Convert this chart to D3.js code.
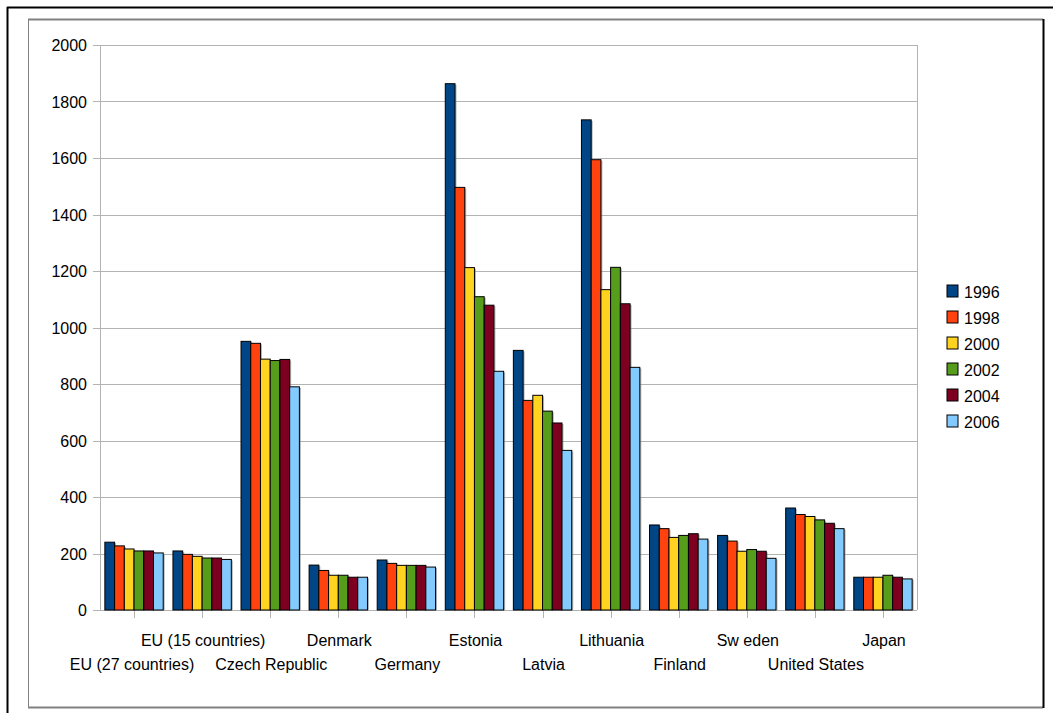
<!DOCTYPE html>
<html>
<head>
<meta charset="utf-8">
<script src="https://cdn.jsdelivr.net/npm/d3@7"></script>
<style>
  html, body { margin: 0; padding: 0; background: #fff; }
  svg { display: block; font-family: "Liberation Sans", Arial, sans-serif; }
</style>
</head>
<body>
<svg id="chart" width="1053" height="713"></svg>
<script>
const categories = ["EU (27 countries)", "EU (15 countries)", "Czech Republic", "Denmark", "Germany",
  "Estonia", "Latvia", "Lithuania", "Finland", "Sw eden", "United States", "Japan"];
const years = ["1996", "1998", "2000", "2002", "2004", "2006"];
const v1996 = [240, 209, 951, 159, 177, 1863, 919, 1735, 301, 264, 361, 116];
const v1998 = [227, 197, 944, 140, 165, 1496, 742, 1594, 288, 244, 338, 116];
const v2000 = [216, 190, 888, 123, 158, 1212, 760, 1134, 257, 208, 331, 116];
const v2002 = [209, 184, 883, 123, 158, 1109, 704, 1213, 264, 214, 319, 123];
const v2004 = [209, 184, 887, 116, 158, 1079, 662, 1084, 270, 208, 307, 116];
const v2006 = [202, 179, 790, 116, 152, 845, 565, 859, 251, 183, 288, 110];
const yTicks = [0, 200, 400, 600, 800, 1000, 1200, 1400, 1600, 1800, 2000];
const colors = ["#004586", "#ff420e", "#ffd320", "#579d1c", "#7e0021", "#83caff"];

const seriesValues = [v1996, v1998, v2000, v2002, v2004, v2006];
const data = categories.map((c, i) => ({ cat: c, vals: years.map((y, j) => ({ year: y, value: seriesValues[j][i], idx: j })) }));

const svg = d3.select("#chart");
const L = 100, R = 917, T = 45, B = 610;

// frames
svg.append("line").attr("x1", 7).attr("x2", 1053).attr("y1", 7.5).attr("y2", 7.5).attr("stroke", "#000").attr("stroke-width", 2);
svg.append("line").attr("x1", 7.5).attr("x2", 7.5).attr("y1", 7).attr("y2", 713).attr("stroke", "#000").attr("stroke-width", 2);
svg.append("line").attr("x1", 28).attr("x2", 1043).attr("y1", 19.5).attr("y2", 19.5).attr("stroke", "#808080").attr("stroke-width", 2);
svg.append("line").attr("x1", 28.5).attr("x2", 28.5).attr("y1", 19).attr("y2", 708).attr("stroke", "#808080").attr("stroke-width", 1);
svg.append("line").attr("x1", 28).attr("x2", 1043).attr("y1", 707.5).attr("y2", 707.5).attr("stroke", "#808080").attr("stroke-width", 2);
svg.append("line").attr("x1", 1043.5).attr("x2", 1043.5).attr("y1", 19).attr("y2", 708).attr("stroke", "#000").attr("stroke-width", 2);

const x0 = d3.scaleBand().domain(categories).range([L, R]).paddingInner(0).paddingOuter(0);
const x1 = d3.scaleBand().domain(years).range([0, x0.bandwidth()]).paddingInner(0).paddingOuter(0.5);
const y = d3.scaleLinear().domain([0, 2000]).range([B, T]);

// gridlines
svg.append("g").selectAll("line").data(yTicks).join("line")
  .attr("x1", L - 7).attr("x2", R)
  .attr("y1", d => Math.round(y(d)) + 0.5).attr("y2", d => Math.round(y(d)) + 0.5)
  .attr("stroke", "#b3b3b3").attr("stroke-width", 1);

// plot border
svg.append("line").attr("x1", L + 0.5).attr("x2", L + 0.5).attr("y1", T).attr("y2", B).attr("stroke", "#b3b3b3");
svg.append("line").attr("x1", R + 0.5).attr("x2", R + 0.5).attr("y1", T).attr("y2", B).attr("stroke", "#b3b3b3");

// y labels
svg.append("g").selectAll("text").data(yTicks).join("text")
  .attr("x", 87).attr("y", d => y(d) + 6)
  .attr("text-anchor", "end").attr("font-size", 16).attr("fill", "#000")
  .text(d => d);

// category ticks
svg.append("g").selectAll("line").data(categories).join("line")
  .attr("x1", d => Math.round(x0(d) + x0.bandwidth() / 2) + 0.5)
  .attr("x2", d => Math.round(x0(d) + x0.bandwidth() / 2) + 0.5)
  .attr("y1", B).attr("y2", B + 8)
  .attr("stroke", "#b3b3b3");

// bars
const groups = svg.append("g").selectAll("g").data(data).join("g")
  .attr("transform", d => `translate(${x0(d.cat)},0)`);
groups.selectAll("rect.shadow").data(d => d.vals).join("rect")
  .attr("class", "shadow")
  .attr("x", d => x1(d.year) + 1.5).attr("y", d => y(d.value) + 1)
  .attr("width", x1.bandwidth()).attr("height", d => B - y(d.value) - 1)
  .attr("fill", "#808080").attr("opacity", 0.6);
groups.selectAll("rect.bar").data(d => d.vals).join("rect")
  .attr("class", "bar")
  .attr("x", d => x1(d.year)).attr("y", d => y(d.value))
  .attr("width", x1.bandwidth()).attr("height", d => B - y(d.value))
  .attr("fill", d => colors[d.idx]).attr("stroke", "#000").attr("stroke-width", 1);

// category labels
svg.append("g").selectAll("text").data(categories).join("text")
  .attr("x", (d, i) => x0(d) + x0.bandwidth() / 2 + (i === 0 ? -2 : 1))
  .attr("y", (d, i) => i % 2 === 1 ? 646 : 670)
  .attr("text-anchor", "middle").attr("font-size", 16).attr("fill", "#000")
  .text(d => d);

// legend
const leg = svg.append("g").selectAll("g").data(years).join("g")
  .attr("transform", (d, i) => `translate(947, ${285 + i * 26})`);
leg.append("rect").attr("x", 0).attr("y", 0).attr("width", 11).attr("height", 12)
  .attr("fill", (d, i) => colors[i]).attr("stroke", "#000").attr("stroke-width", 1);
leg.append("text").attr("x", 17).attr("y", 13).attr("font-size", 16).attr("fill", "#000").text(d => d);
</script>
</body>
</html>
